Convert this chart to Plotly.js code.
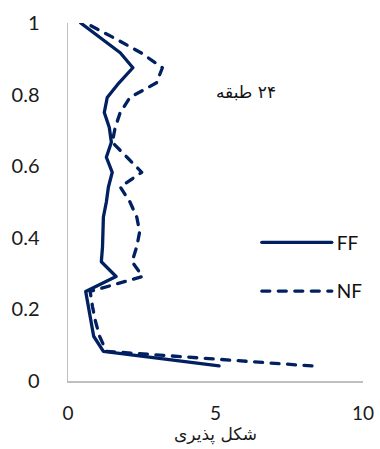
<!DOCTYPE html>
<html>
<head>
<meta charset="utf-8">
<script src="https://cdn.plot.ly/plotly-3.0.1.min.js"></script>
<style>
html,body{margin:0;padding:0;background:#fff;}
#chart{width:380px;height:449px;}
.js-line{stroke-linecap:round;stroke-linejoin:round;}
</style>
</head>
<body>
<div id="chart"></div>
<script>
// relative height of each story level (story / 24)
const heights = [0.042,0.083,0.125,0.167,0.208,0.25,0.292,0.333,0.375,0.417,0.458,0.5,0.542,0.583,0.625,0.667,0.708,0.75,0.792,0.833,0.875,0.917,0.958,1];
// ductility values
const ffValues = [5.12,1.2,0.87,0.77,0.68,0.6,1.63,1.13,1.17,1.18,1.2,1.3,1.37,1.5,1.3,1.47,1.4,1.23,1.33,1.73,2.2,1.77,1.1,0.43];
const nfValues = [8.27,1.3,1.07,0.93,0.83,0.75,2.53,2.17,2.33,2.43,2.33,2.1,1.77,2.5,2.0,1.5,1.6,1.77,2.1,3.0,3.2,2.47,1.57,0.6];
const seriesNames = ['FF','NF'];
const xTicks = [0,5,10];
const yTicks = [0,0.2,0.4,0.6,0.8,1];
const xTitle = 'شکل پذیری';
const noteText = '\u202B۲۴ طبقه\u202C';

const color = '#002060';
const traces = [
  {x: ffValues, y: heights, name: seriesNames[0], mode:'lines', legendgroup:'a',
   line:{color:color, width:3.3}},
  {x: nfValues, y: heights, name: seriesNames[1], mode:'lines', legendgroup:'b',
   line:{color:color, width:3.3, dash:'8px,8.5px'}}
];
const layout = {
  width:380, height:449,
  margin:{l:68, r:14, t:23, b:68},
  paper_bgcolor:'#fff', plot_bgcolor:'#fff',
  font:{family:'Lato, "DejaVu Sans", sans-serif', size:19, color:'#1a1a1a'},
  showlegend:true,
  legend:{x:0.64, y:0.44, xanchor:'left', yanchor:'top', itemwidth:70,
          font:{size:19, color:'#111'}, tracegroupgap:21, traceorder:'grouped',
          bgcolor:'rgba(0,0,0,0)'},
  xaxis:{range:[0,10], tickvals:xTicks, showgrid:false, zeroline:false,
         showline:true, linecolor:'#bfbfbf', linewidth:1.5, ticks:'',
         ticklabelstandoff:15, fixedrange:true,
         title:{text:xTitle, font:{size:17, family:'"DejaVu Sans", sans-serif', color:'#1a1a1a'}, standoff:1}},
  yaxis:{range:[0,1], tickvals:yTicks, showgrid:false, zeroline:false,
         showline:true, linecolor:'#bfbfbf', linewidth:1.5, ticks:'',
         ticklabelstandoff:23, fixedrange:true, tickfont:{size:20}},
  annotations:[{text:noteText, xref:'paper', yref:'paper', x:0.605, y:0.84,
                showarrow:false, font:{size:17, family:'"DejaVu Sans", sans-serif', color:'#111'}}]
};
Plotly.newPlot('chart', traces, layout, {displayModeBar:false, staticPlot:true}).then(function(){
  document.querySelectorAll('.js-line').forEach(function(p){
    p.style.strokeLinecap='round'; p.style.strokeLinejoin='round';
  });
});
</script>
</body>
</html>
